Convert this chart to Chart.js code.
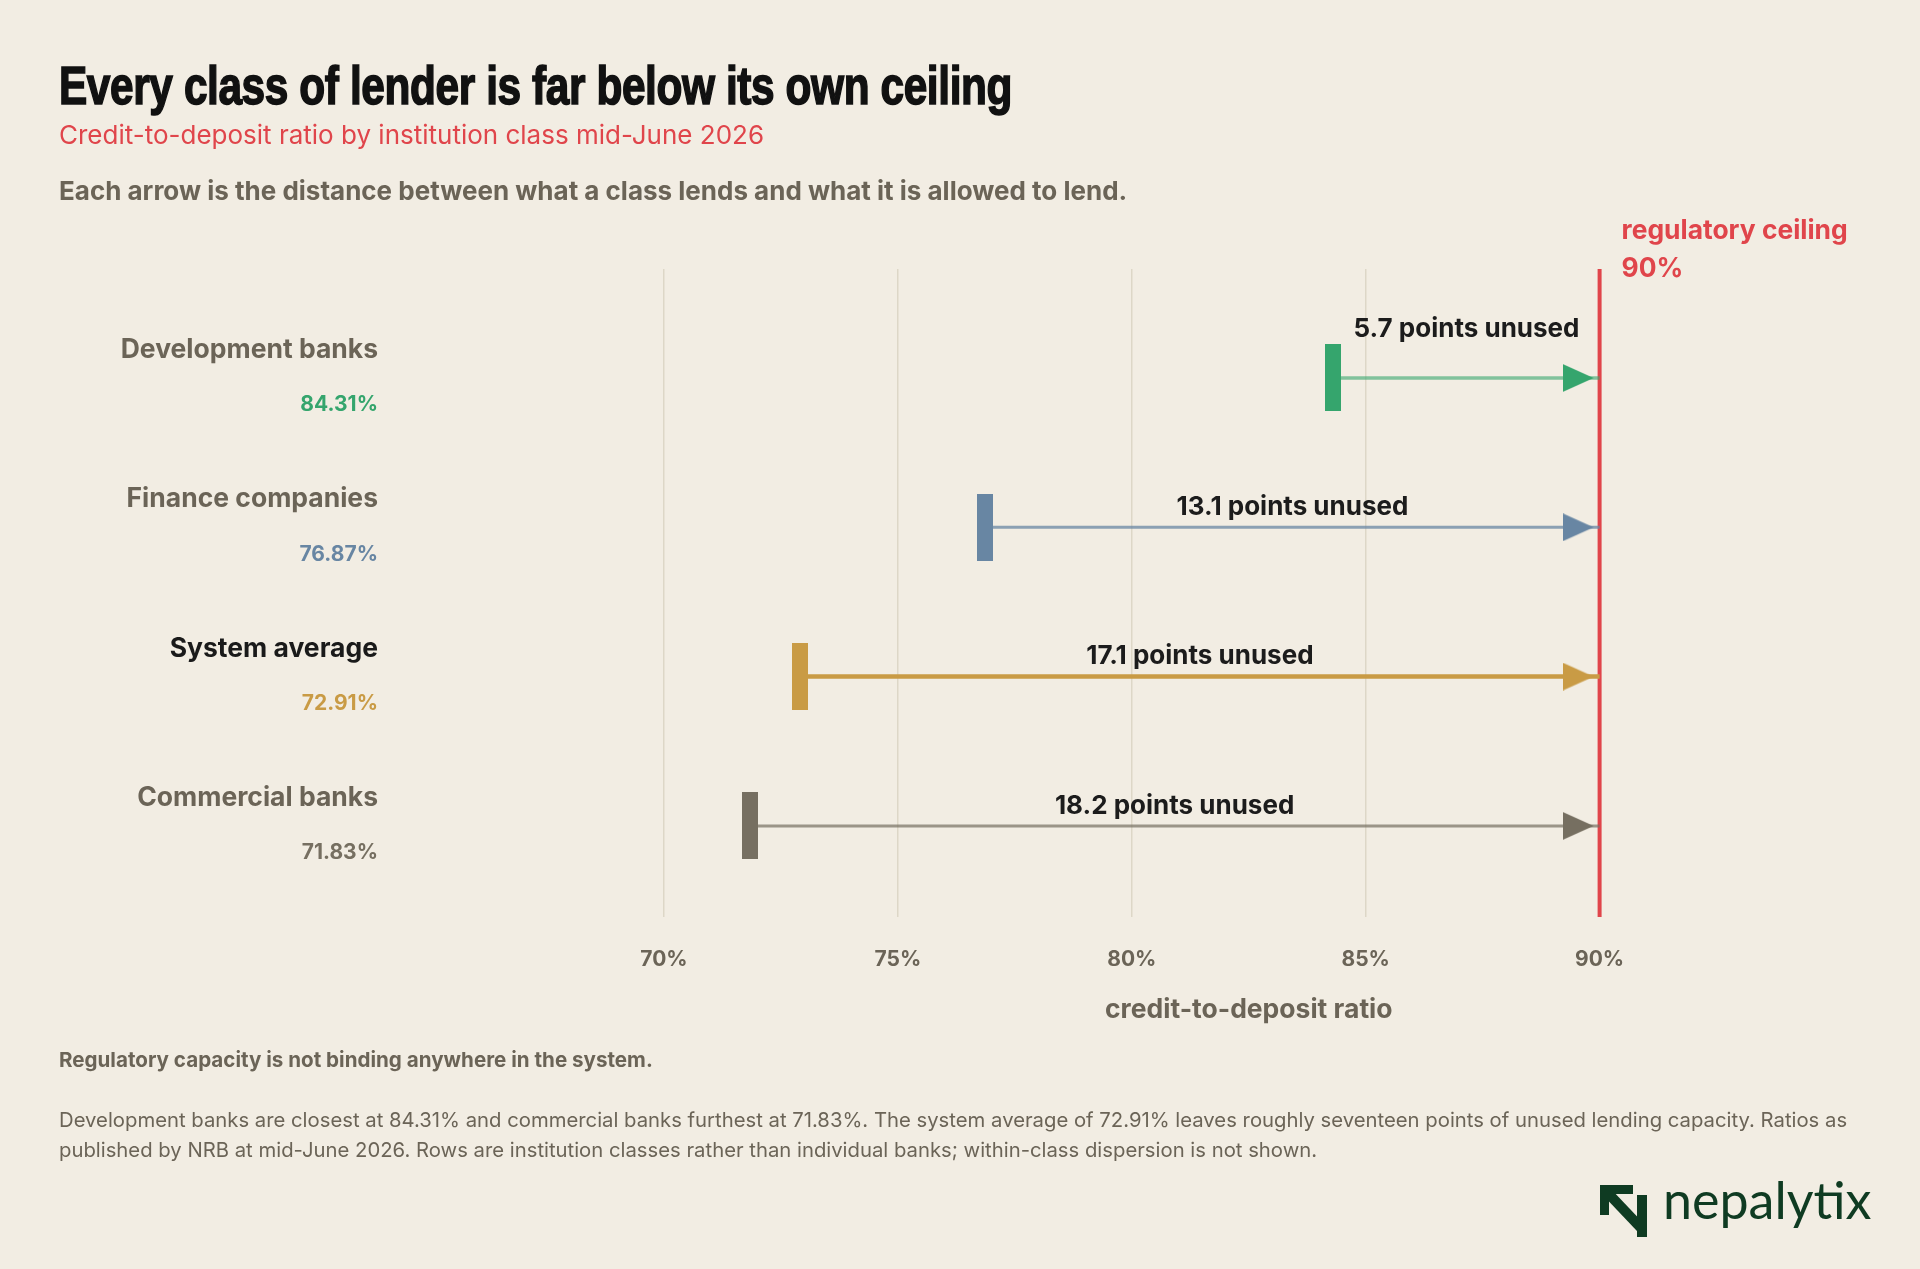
<!DOCTYPE html>
<html>
<head>
<meta charset="utf-8">
<script src="https://cdn.jsdelivr.net/npm/chart.js@4.4.1/dist/chart.umd.min.js"></script>
<style>
    body{
        margin:0;
        background:#f2ede3;
        width:1920px;
        height:1269px;
        overflow:hidden;
        font-family:Inter, "Liberation Sans", sans-serif;
        color:#6b6457;
    }
    #chart{
        position:absolute;
        left:0;
        top:0;
    }
    .txt{
        position:absolute;
        left:59px;
        white-space:nowrap;
        line-height:1;
    }
    #title{
        top:58px;
        font-family:"Liberation Sans Narrow", "Liberation Sans", sans-serif;
        font-weight:bold;
        font-size:54px;
        color:#111;
        display:inline-block;
        transform-origin:0 0;
        letter-spacing:-0.5px;
        -webkit-text-stroke:1.6px #111;
    }
    #subtitle{
        top:122px;
        font-size:26px;
        color:#e0454b;
    }
    #desc{
        top:178px;
        font-size:26px;
        font-weight:bold;
    }
    #note{
        top:1050px;
        font-size:20.6px;
        font-weight:bold;
    }
    #body{
        top:1105px;
        font-size:20.3px;
        line-height:30px;
    }
    #logo{
        position:absolute;
        left:1600px;
        top:1185px;
        height:52px;
    }
    #logo span{
        position:absolute;
        left:63px;
        top:-17px;
        font-family:Lato, sans-serif;
        font-size:52px;
        color:#0f3b22;
        white-space:nowrap;
    }
</style>
</head>
<body>

<canvas id="chart" width="1920" height="1269"></canvas>

<div class="txt" id="title">Every class of lender is far below its own ceiling</div>
<div class="txt" id="subtitle">Credit-to-deposit ratio by institution class mid-June 2026</div>
<div class="txt" id="desc">Each arrow is the distance between what a class lends and what it is allowed to lend.</div>
<div class="txt" id="note">Regulatory capacity is not binding anywhere in the system.</div>
<div class="txt" id="body">Development banks are closest at 84.31% and commercial banks furthest at 71.83%. The system average of 72.91% leaves roughly seventeen points of unused lending capacity. Ratios as<br>published by NRB at mid-June 2026. Rows are institution classes rather than individual banks; within-class dispersion is not shown.</div>

<div id="logo">
    <svg width="48" height="52" viewBox="0 0 48 52">
        <rect x="0" y="0" width="33" height="9" fill="#0f3b22" />
        <rect x="0" y="0" width="9" height="30" fill="#0f3b22" />
        <line x1="5" y1="5" x2="42" y2="44" stroke="#0f3b22" stroke-width="10" />
        <rect x="37" y="10" width="10" height="42" fill="#0f3b22" />
    </svg>
    <span>nepalytix</span>
</div>

<script>
// data
var institutions = ["Development banks", "Finance companies", "System average", "Commercial banks"];
var cdRatio = [84.31, 76.87, 72.91, 71.83];
var ceiling = 90;
var xTicks = [70, 75, 80, 85, 90];

// styles
var markColors = ["#35a56d", "#6886a3", "#c99b45", "#766f61"];
var shaftColors = ["rgba(53,165,109,0.6)", "rgba(104,134,163,0.75)", "#c99b45", "rgba(118,111,97,0.7)"];
var shaftWidths = [3.5, 3, 4.5, 3];
var nameColors = ["#6b6457", "#6b6457", "#1a1a1a", "#6b6457"];
var red = "#e0454b";
var font = "Inter, 'Liberation Sans', sans-serif";

// title squeezed to the width of the original
var t = document.getElementById("title");
t.style.transform = "scaleX(" + (953 / t.getBoundingClientRect().width) + ")";

function startMark(color){
    var c = document.createElement("canvas");
    c.width = 16; c.height = 67;
    var x = c.getContext("2d");
    x.fillStyle = color;
    x.fillRect(0, 0, 16, 67);
    return c;
}
function arrowHead(color){
    // tip sits 6px left of the centre of the canvas
    var c = document.createElement("canvas");
    c.width = 74; c.height = 28;
    var x = c.getContext("2d");
    x.fillStyle = color;
    x.beginPath();
    x.moveTo(0, 0);
    x.lineTo(31, 14);
    x.lineTo(0, 28);
    x.closePath();
    x.fill();
    return c;
}

var datasets = [];
for (var i = 0; i < institutions.length; i++) {
    datasets.push({
        label: institutions[i],
        data: [{x: cdRatio[i], y: i}, {x: ceiling, y: i}],
        borderColor: shaftColors[i],
        borderWidth: shaftWidths[i],
        pointStyle: [startMark(markColors[i]), arrowHead(markColors[i])],
        pointRadius: 5,
        fill: false
    });
}
datasets.push({
    label: "ceiling",
    data: [{x: ceiling, y: -0.73}, {x: ceiling, y: 3.61}],
    borderColor: red,
    borderWidth: 4,
    pointRadius: 0,
    fill: false
});

var labelsPlugin = {
    id: "rowLabels",
    afterDatasetsDraw: function(chart){
        var ctx = chart.ctx;
        var xs = chart.scales.x, ys = chart.scales.y;
        ctx.save();
        for (var i = 0; i < institutions.length; i++) {
            var y = ys.getPixelForValue(i);
            ctx.textAlign = "right";
            ctx.textBaseline = "middle";
            ctx.font = "bold 26.5px " + font;
            ctx.fillStyle = nameColors[i];
            ctx.fillText(institutions[i], 378, y - 28);
            ctx.font = "bold 21px " + font;
            ctx.fillStyle = markColors[i];
            ctx.fillText(cdRatio[i].toFixed(2) + "%", 378, y + 27);

            var x0 = xs.getPixelForValue(cdRatio[i]);
            var x1 = xs.getPixelForValue(ceiling);
            var txt = (ceiling - cdRatio[i]).toFixed(1) + " points unused";
            ctx.font = "bold 26px " + font;
            var tw = ctx.measureText(txt).width;
            // short arrows get their label lifted clear of the shaft
            var lift = (tw + 80 > x1 - x0) ? 49 : 20;
            ctx.textAlign = "center";
            ctx.fillStyle = "#1c1c1c";
            ctx.fillText(txt, (x0 + x1) / 2, y - lift);
        }
        // ceiling label
        var cx = xs.getPixelForValue(ceiling) + 22;
        ctx.textAlign = "left";
        ctx.textBaseline = "alphabetic";
        ctx.font = "bold 26.4px " + font;
        ctx.fillStyle = red;
        ctx.fillText("regulatory ceiling", cx, 239);
        ctx.fillText(ceiling + "%", cx, 277);
        ctx.restore();
    }
};

new Chart(document.getElementById("chart"), {
    type: "line",
    data: {datasets: datasets},
    options: {
        responsive: false,
        animation: false,
        layout: {padding: {left: 664, right: 86.5, top: 269, bottom: 243}},
        plugins: {legend: {display: false}, tooltip: {enabled: false}},
        scales: {
            x: {
                type: "linear",
                min: 70,
                max: 95,
                afterBuildTicks: function(axis){
                    axis.ticks = xTicks.map(function(v){ return {value: v}; });
                },
                ticks: {
                    padding: 30,
                    color: "#6b6457",
                    font: {family: font, weight: "bold", size: 21},
                    callback: function(v){ return v + "%"; }
                },
                grid: {color: "#ddd7c7", lineWidth: 1.5, drawTicks: false},
                border: {display: false},
                title: {
                    display: true,
                    text: "credit-to-deposit ratio",
                    color: "#6b6457",
                    font: {family: font, weight: "bold", size: 26.5},
                    padding: {top: -8, bottom: 0}
                }
            },
            y: {
                type: "linear",
                reverse: true,
                min: -0.73,
                max: 3.61,
                display: false
            }
        }
    },
    plugins: [labelsPlugin]
});
</script>
</body>
</html>
